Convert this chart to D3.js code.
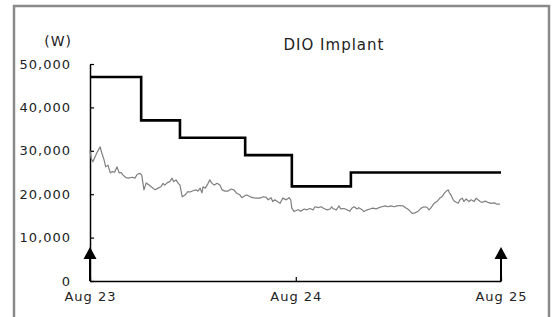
<!DOCTYPE html>
<html><head><meta charset="utf-8">
<script src="https://cdn.jsdelivr.net/npm/d3@7/dist/d3.min.js"></script>
<style>
body{margin:0;background:#fff;}
svg{display:block;}
text{font-family:"DejaVu Sans",sans-serif;fill:#222;}
</style></head>
<body>
<script>
// ---- data ----
const title = "DIO Implant";
const unitLabel = "(W)";
const yTicks = [0, 10000, 20000, 30000, 40000, 50000];
const xTickDates = ["2023-08-01", "2024-08-01", "2025-08-01"];
const xTickLabels = ["Aug 23", "Aug 24", "Aug 25"];
const arrowDates = ["2023-08-01", "2025-08-01"];

// target price (step)
const targetDates = ["2023-08-01","2023-10-31","2024-01-08","2024-05-03","2024-07-25","2024-11-07","2025-08-01"];
const targetValues = [47000, 37000, 33000, 29000, 21800, 25000, 25000];

// share price
const priceDates = [
"2023-08-01","2023-08-03","2023-08-06","2023-08-10","2023-08-13","2023-08-19","2023-08-22","2023-08-26","2023-08-29","2023-09-02",
"2023-09-06","2023-09-09","2023-09-14","2023-09-18","2023-09-22","2023-09-25","2023-09-29","2023-10-04","2023-10-09","2023-10-15",
"2023-10-20","2023-10-24","2023-10-29","2023-11-01","2023-11-05","2023-11-09","2023-11-14","2023-11-19","2023-11-25","2023-11-30",
"2023-12-05","2023-12-09","2023-12-12","2023-12-16","2023-12-21","2023-12-25","2023-12-28","2024-01-01","2024-01-05","2024-01-08",
"2024-01-12","2024-01-17","2024-01-22","2024-01-26","2024-01-31","2024-02-06","2024-02-09","2024-02-13","2024-02-16","2024-02-18",
"2024-02-22","2024-02-27","2024-03-01","2024-03-05","2024-03-09","2024-03-14","2024-03-19","2024-03-23","2024-03-28","2024-04-02",
"2024-04-08","2024-04-13","2024-04-18","2024-04-24","2024-04-27","2024-05-03","2024-05-06","2024-05-12","2024-05-17","2024-05-22",
"2024-05-29","2024-06-04","2024-06-09","2024-06-13","2024-06-18","2024-06-21","2024-06-25","2024-06-29","2024-07-04","2024-07-09",
"2024-07-15","2024-07-20","2024-07-23","2024-07-25","2024-07-29","2024-08-05","2024-08-10","2024-08-16","2024-08-21","2024-08-26",
"2024-09-01","2024-09-04","2024-09-10","2024-09-15","2024-09-20","2024-09-26","2024-10-01","2024-10-04","2024-10-06","2024-10-12",
"2024-10-17","2024-10-20","2024-10-26","2024-10-31","2024-11-05","2024-11-09","2024-11-13","2024-11-18","2024-11-21","2024-11-27",
"2024-11-30","2024-12-06","2024-12-11","2024-12-16","2024-12-22","2024-12-27","2025-01-01","2025-01-07","2025-01-12","2025-01-17",
"2025-01-23","2025-01-28","2025-02-02","2025-02-08","2025-02-13","2025-02-18","2025-02-24","2025-03-01","2025-03-06","2025-03-12",
"2025-03-17","2025-03-22","2025-03-26","2025-03-29","2025-04-04","2025-04-09","2025-04-15","2025-04-18","2025-04-22","2025-04-25",
"2025-04-29","2025-05-01","2025-05-04","2025-05-08","2025-05-11","2025-05-17","2025-05-20","2025-05-24","2025-05-27","2025-05-31",
"2025-06-05","2025-06-09","2025-06-14","2025-06-18","2025-06-21","2025-06-25","2025-06-28","2025-07-04","2025-07-09","2025-07-14",
"2025-07-20","2025-07-25","2025-07-30"];
const priceValues = [
30000,28300,27500,28600,29500,30900,29500,27900,26300,26700,
24900,25200,25100,26300,24900,25000,24400,23800,23700,23900,
23700,24600,24800,24400,21000,22600,22100,21600,21000,21400,
21700,22500,22100,22600,22900,23700,22900,23300,22500,22100,
19400,19800,20600,20500,20800,21000,20700,21400,20300,21700,
21400,22500,23300,22500,22100,22500,22100,21000,20700,20700,
21200,21000,20200,19800,19200,19700,19800,19400,19200,19100,
19100,19400,19300,18700,19200,18300,18700,18300,17900,19100,
18700,19200,18700,16800,16000,16400,16100,16600,16400,16700,
16400,17100,16900,17100,16700,16400,16600,17100,16700,16400,
17300,16600,16700,16400,16100,16800,17100,16600,16900,16400,
16000,16400,16600,16800,16600,16900,17100,17300,17100,17300,
17100,17300,17400,17300,16800,16400,15600,15700,16000,16800,
17100,17000,16400,16800,17900,18300,19200,19400,20200,20600,
21000,20400,19800,18700,18300,17900,18700,19100,18300,18900,
18300,18700,18300,19100,18700,18300,18100,18400,18100,17900,
18000,17700,17700];

// ---- chart ----
const W = 552, H = 317;
const parse = d3.timeParse("%Y-%m-%d");
const svg = d3.select("body").append("svg").attr("width", W).attr("height", H);

// outer frame
svg.append("rect").attr("x", 14).attr("y", 6).attr("width", 535).attr("height", 340)
  .attr("fill", "none").attr("stroke", "#8a8a8a").attr("stroke-width", 2.5);

const x = d3.scaleTime().domain([parse(xTickDates[0]), parse(xTickDates[2])]).range([90, 501]);
const y = d3.scaleLinear().domain([0, 50000]).range([281, 64]);

// y axis
const yAx = svg.append("g").attr("transform", "translate(90,0)")
  .call(d3.axisLeft(y).tickValues(yTicks).tickSize(-4).tickSizeOuter(0).tickPadding(19)
    .tickFormat(d3.format(",")));
// x axis
const xAx = svg.append("g").attr("transform", "translate(0,281)")
  .call(d3.axisBottom(x).tickValues(xTickDates.map(parse)).tickSize(-4).tickSizeOuter(0).tickPadding(11)
    .tickFormat((d, i) => xTickLabels[i]));
[yAx, xAx].forEach(g => {
  g.select(".domain").attr("stroke", "#000").attr("stroke-width", 1.5);
  g.selectAll(".tick line").attr("stroke", "#000").attr("stroke-width", 1.2);
  g.selectAll(".tick text").attr("font-size", 13).attr("letter-spacing", "1px")
    .attr("font-family", "DejaVu Sans").attr("fill", "#222");
});

// price line
const pts = priceDates.map((d, i) => [parse(d), priceValues[i]]);
svg.append("path").datum(pts)
  .attr("d", d3.line().x(d => x(d[0])).y(d => y(d[1])))
  .attr("fill", "none").attr("stroke", "#7f7f7f").attr("stroke-width", 1.2).attr("stroke-linejoin", "round");

// target step line
const tpts = targetDates.map((d, i) => [parse(d), targetValues[i]]);
svg.append("path").datum(tpts)
  .attr("d", d3.line().curve(d3.curveStepAfter).x(d => x(d[0])).y(d => y(d[1])))
  .attr("fill", "none").attr("stroke", "#000").attr("stroke-width", 2.6);

// arrows
arrowDates.forEach(ds => {
  const ax = x(parse(ds));
  svg.append("line").attr("x1", ax).attr("x2", ax).attr("y1", y(0)).attr("y2", 258)
    .attr("stroke", "#000").attr("stroke-width", 2);
  svg.append("path").attr("d", `M${ax},247 L${ax - 6.5},259 L${ax + 6.5},259 Z`).attr("fill", "#000");
});

// title & unit
svg.append("text").attr("x", 334).attr("y", 50).attr("text-anchor", "middle")
  .attr("font-size", 15).attr("letter-spacing", "1px").text(title);
svg.append("text").attr("x", 72).attr("y", 46).attr("text-anchor", "end")
  .attr("font-size", 14).attr("letter-spacing", "1px").text(unitLabel);
</script>
</body></html>
